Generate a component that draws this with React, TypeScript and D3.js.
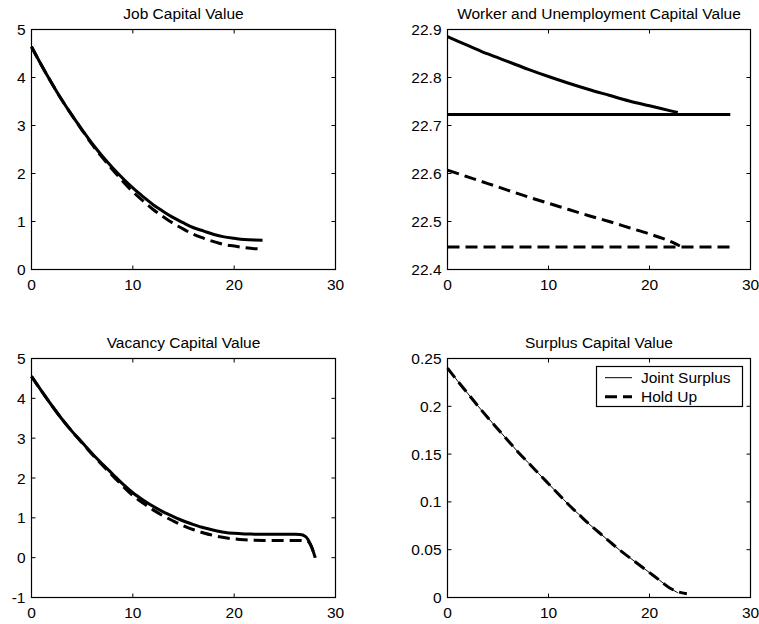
import React from "react";
import * as d3 from "d3";

// ---------- data ----------
const xTicks = [0, 10, 20, 30];
const xTickLabels = ["0", "10", "20", "30"];

const jobTicks = [0, 1, 2, 3, 4, 5];
const jobTickLabels = ["0", "1", "2", "3", "4", "5"];
const workerTicks = [22.4, 22.5, 22.6, 22.7, 22.8, 22.9];
const workerTickLabels = ["22.4", "22.5", "22.6", "22.7", "22.8", "22.9"];
const vacTicks = [-1, 0, 1, 2, 3, 4, 5];
const vacTickLabels = ["-1", "0", "1", "2", "3", "4", "5"];
const surplusTicks = [0, 0.05, 0.1, 0.15, 0.2, 0.25];
const surplusTickLabels = ["0", "0.05", "0.1", "0.15", "0.2", "0.25"];

const titles = [
  "Job Capital Value",
  "Worker and Unemployment Capital Value",
  "Vacancy Capital Value",
  "Surplus Capital Value",
];
const legendLabels = ["Joint Surplus", "Hold Up"];

// Job capital value
const jobX = [0, 1, 2, 3, 4, 5, 6, 7, 8, 9, 10, 11, 12, 13, 14, 15, 16, 17, 18, 19, 20, 21, 22, 22.8];
const jobJoint = [4.64, 4.25, 3.88, 3.53, 3.21, 2.91, 2.62, 2.36, 2.12, 1.9, 1.7, 1.52, 1.35, 1.21, 1.08, 0.97, 0.87, 0.8, 0.73, 0.68, 0.65, 0.625, 0.613, 0.61];
const jobHold = [4.64, 4.25, 3.88, 3.53, 3.21, 2.9, 2.6, 2.33, 2.08, 1.84, 1.62, 1.43, 1.25, 1.1, 0.96, 0.84, 0.73, 0.65, 0.58, 0.52, 0.49, 0.455, 0.433, 0.43];

// Worker and unemployment capital value
const workerX = [0, 2, 4, 6, 8, 10, 12, 14, 16, 18, 20, 22, 22.8];
const workerJoint = [22.885, 22.867, 22.849, 22.833, 22.817, 22.802, 22.788, 22.775, 22.763, 22.751, 22.741, 22.731, 22.727];
const workerHoldX = [0, 2, 4, 6, 8, 10, 12, 14, 16, 18, 20, 22, 23];
const workerHold = [22.607, 22.593, 22.579, 22.565, 22.551, 22.538, 22.525, 22.512, 22.5, 22.487, 22.474, 22.459, 22.449];
const unempX = [0, 28];
const unempJoint = [22.723, 22.723];
const unempHold = [22.447, 22.447];

// Vacancy capital value
const vacX = [0, 1, 2, 3, 4, 5, 6, 7, 8, 9, 10, 11, 12, 13, 14, 15, 16, 17, 18, 19, 20, 21, 22, 23, 24, 25, 26, 26.5, 27, 27.3, 27.5, 27.7, 27.85, 28];
const vacJoint = [4.55, 4.18, 3.82, 3.48, 3.17, 2.89, 2.61, 2.35, 2.1, 1.85, 1.63, 1.45, 1.29, 1.15, 1.03, 0.92, 0.83, 0.75, 0.69, 0.64, 0.61, 0.595, 0.59, 0.585, 0.585, 0.585, 0.585, 0.58, 0.54, 0.45, 0.35, 0.23, 0.12, 0];
const vacHold = [4.55, 4.18, 3.82, 3.48, 3.17, 2.88, 2.59, 2.32, 2.06, 1.8, 1.56, 1.37, 1.2, 1.05, 0.92, 0.8, 0.7, 0.62, 0.555, 0.505, 0.47, 0.448, 0.437, 0.432, 0.43, 0.43, 0.43, 0.43, 0.43, 0.41, 0.34, 0.23, 0.12, 0];

// Surplus capital value
const surpX = [0, 1, 2, 3, 4, 5, 6, 7, 8, 9, 10, 11, 12, 13, 14, 15, 16, 17, 18, 19, 20, 21, 22, 22.8];
const surpJoint = [0.24, 0.2265, 0.2135, 0.2005, 0.188, 0.176, 0.164, 0.152, 0.141, 0.13, 0.119, 0.108, 0.097, 0.087, 0.077, 0.068, 0.059, 0.05, 0.042, 0.034, 0.026, 0.018, 0.01, 0.005];
const surpHoldX = [0, 1, 2, 3, 4, 5, 6, 7, 8, 9, 10, 11, 12, 13, 14, 15, 16, 17, 18, 19, 20, 21, 22, 22.8, 23.7];
const surpHold = [0.24, 0.2265, 0.2135, 0.2005, 0.188, 0.176, 0.164, 0.152, 0.141, 0.13, 0.119, 0.108, 0.097, 0.087, 0.077, 0.068, 0.059, 0.05, 0.042, 0.034, 0.026, 0.018, 0.01, 0.006, 0.004];

// ---------- styling ----------
const FONT = "'Liberation Sans', Arial, Helvetica, sans-serif";
const DASH = "12 6";
const TICK_FS = 15.5;
const TITLE_FS = 15.5;

type Series = { xs: number[]; ys: number[]; width: number; dash?: string };

type PanelProps = {
  left: number;
  right: number;
  top: number;
  bottom: number;
  yDomain: [number, number];
  yTicks: number[];
  yTickLabels: string[];
  title: string;
  series: Series[];
  legend?: boolean;
};

function Panel(p: PanelProps) {
  const x = d3.scaleLinear().domain([0, 30]).range([p.left, p.right]);
  const y = d3.scaleLinear().domain(p.yDomain).range([p.bottom, p.top]);
  const tl = 4;
  return (
    <g>
      <text
        x={(p.left + p.right) / 2}
        y={p.top - 11}
        textAnchor="middle"
        fontSize={TITLE_FS}
        fontFamily={FONT}
        fill="#000"
      >
        {p.title}
      </text>
      {p.series.map((s, i) => {
        const pts = s.xs.map((xv, k) => [xv, s.ys[k]] as [number, number]);
        const line = d3
          .line<[number, number]>()
          .x((d) => x(d[0]))
          .y((d) => y(d[1]))
          .curve(d3.curveMonotoneX);
        return (
          <path
            key={i}
            d={line(pts) || ""}
            fill="none"
            stroke="#000"
            strokeWidth={s.width}
            strokeDasharray={s.dash}
            strokeLinejoin="round"
          />
        );
      })}
      <rect
        x={p.left}
        y={p.top}
        width={p.right - p.left}
        height={p.bottom - p.top}
        fill="none"
        stroke="#000"
        strokeWidth={1.2}
      />
      {xTicks.map((t, i) => (
        <g key={"x" + i}>
          <line x1={x(t)} x2={x(t)} y1={p.bottom} y2={p.bottom - tl} stroke="#000" />
          <line x1={x(t)} x2={x(t)} y1={p.top} y2={p.top + tl} stroke="#000" />
          <text
            x={x(t)}
            y={p.bottom + 20}
            textAnchor="middle"
            fontSize={TICK_FS}
            fontFamily={FONT}
          >
            {xTickLabels[i]}
          </text>
        </g>
      ))}
      {p.yTicks.map((t, i) => (
        <g key={"y" + i}>
          <line x1={p.left} x2={p.left + tl} y1={y(t)} y2={y(t)} stroke="#000" />
          <line x1={p.right} x2={p.right - tl} y1={y(t)} y2={y(t)} stroke="#000" />
          <text
            x={p.left - 6}
            y={y(t) + 5.5}
            textAnchor="end"
            fontSize={TICK_FS}
            fontFamily={FONT}
          >
            {p.yTickLabels[i]}
          </text>
        </g>
      ))}
      {p.legend && (
        <g>
          <rect x={596.5} y={366.5} width={146} height={40} fill="#fff" stroke="#000" strokeWidth={1.2} />
          <line x1={605} x2={632} y1={377.7} y2={377.7} stroke="#000" strokeWidth={1} />
          <line x1={605} x2={632} y1={396.7} y2={396.7} stroke="#000" strokeWidth={3} strokeDasharray={DASH} />
          <text x={641} y={383} fontSize={TICK_FS} fontFamily={FONT}>
            {legendLabels[0]}
          </text>
          <text x={641} y={402} fontSize={TICK_FS} fontFamily={FONT}>
            {legendLabels[1]}
          </text>
        </g>
      )}
    </g>
  );
}

export default function App() {
  const L1 = 31.5, R1 = 335.5, L2 = 447.5, R2 = 750.5;
  const T1 = 29.5, B1 = 269.5, T2 = 358.5, B2 = 597.5;
  return (
    <svg
      width={759}
      height={624}
      style={{ position: "absolute", left: 0, top: 0, background: "#fff" }}
    >
      <rect x={0} y={0} width={759} height={624} fill="#fff" />
      <Panel
        left={L1} right={R1} top={T1} bottom={B1}
        yDomain={[0, 5]} yTicks={jobTicks} yTickLabels={jobTickLabels}
        title={titles[0]}
        series={[
          { xs: jobX, ys: jobJoint, width: 3 },
          { xs: jobX, ys: jobHold, width: 3, dash: DASH },
        ]}
      />
      <Panel
        left={L2} right={R2} top={T1} bottom={B1}
        yDomain={[22.4, 22.9]} yTicks={workerTicks} yTickLabels={workerTickLabels}
        title={titles[1]}
        series={[
          { xs: workerX, ys: workerJoint, width: 3 },
          { xs: unempX, ys: unempJoint, width: 3 },
          { xs: workerHoldX, ys: workerHold, width: 3, dash: DASH },
          { xs: unempX, ys: unempHold, width: 3, dash: DASH },
        ]}
      />
      <Panel
        left={L1} right={R1} top={T2} bottom={B2}
        yDomain={[-1, 5]} yTicks={vacTicks} yTickLabels={vacTickLabels}
        title={titles[2]}
        series={[
          { xs: vacX, ys: vacJoint, width: 3 },
          { xs: vacX, ys: vacHold, width: 3, dash: DASH },
        ]}
      />
      <Panel
        left={L2} right={R2} top={T2} bottom={B2}
        yDomain={[0, 0.25]} yTicks={surplusTicks} yTickLabels={surplusTickLabels}
        title={titles[3]}
        series={[
          { xs: surpX, ys: surpJoint, width: 1 },
          { xs: surpHoldX, ys: surpHold, width: 3, dash: DASH },
        ]}
        legend
      />
    </svg>
  );
}
